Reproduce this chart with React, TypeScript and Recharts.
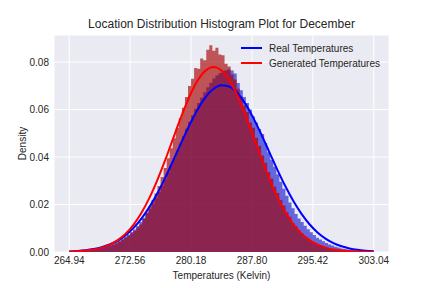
import React from "react";
import {
  Area,
  CartesianGrid,
  ComposedChart,
  Legend,
  Line,
  XAxis,
  YAxis,
} from "recharts";

// histogram bins: 100 bins of equal width starting at the data minimum
const binStart = 264.94;
const binWidth = 0.381;

// density per bin
const realDensity = [
  0.0001, 0.0002, 0.0003, 0.0004, 0.0005, 0.0006, 0.0008, 0.0009, 0.0011, 0.0014,
  0.0018, 0.0022, 0.0026, 0.0031, 0.0037, 0.0043, 0.005, 0.0057, 0.0065, 0.0074,
  0.0084, 0.0095, 0.011, 0.0126, 0.0144, 0.0163, 0.0182, 0.0205, 0.0228, 0.0253,
  0.0279, 0.0306, 0.0336, 0.0366, 0.0396, 0.0428, 0.0458, 0.0488, 0.0519, 0.0549,
  0.0576, 0.0603, 0.0628, 0.0651, 0.0673, 0.0694, 0.0713, 0.0731, 0.0743, 0.0754,
  0.0762, 0.0766, 0.077, 0.0765, 0.0752, 0.0712, 0.0681, 0.0653, 0.0628, 0.06,
  0.0571, 0.0545, 0.0518, 0.0497, 0.0459, 0.042, 0.0389, 0.0359, 0.0327, 0.0296,
  0.0266, 0.0237, 0.0209, 0.0184, 0.016, 0.0141, 0.0126, 0.0111, 0.0096, 0.0083,
  0.0072, 0.006, 0.0053, 0.0045, 0.0038, 0.0032, 0.0027, 0.0022, 0.0019, 0.0015,
  0.0013, 0.0011, 0.0009, 0.0008, 0.0006, 0.0005, 0.0004, 0.0003, 0.0002, 0.0001,
];

const generatedDensity = [
  0, 0.0001, 0.0002, 0.0003, 0.0003, 0.0004, 0.0006, 0.0007, 0.0009, 0.0012,
  0.0015, 0.0018, 0.0022, 0.0026, 0.0031, 0.0036, 0.0043, 0.0052, 0.006, 0.0069,
  0.0079, 0.0089, 0.0103, 0.0116, 0.0139, 0.0166, 0.0193, 0.0219, 0.0246, 0.0278,
  0.0316, 0.0354, 0.0395, 0.0437, 0.0479, 0.0522, 0.0564, 0.0608, 0.0653, 0.0699,
  0.073, 0.0775, 0.0772, 0.0815, 0.0808, 0.0852, 0.0871, 0.0848, 0.086, 0.0832,
  0.0829, 0.0793, 0.0781, 0.0748, 0.0727, 0.0688, 0.0656, 0.0616, 0.059, 0.0546,
  0.0523, 0.0481, 0.0447, 0.0406, 0.0376, 0.0337, 0.031, 0.0275, 0.0249, 0.0219,
  0.0196, 0.0167, 0.0148, 0.0122, 0.0108, 0.0091, 0.0078, 0.0065, 0.0056, 0.0045,
  0.0038, 0.003, 0.0026, 0.0021, 0.0017, 0.0014, 0.0011, 0.0009, 0.0007, 0.0005,
  0.0004, 0.0003, 0.0002, 0.0001, 0.0001, 0, 0, 0, 0, 0,
];

// fitted density curves
const curveX = [
  264.94, 266, 267, 268, 269, 270, 271, 272, 273, 274, 275, 276, 277, 278, 279, 280,
  281, 282, 283, 284, 285, 286, 287, 288, 289, 290, 291, 292, 293, 294, 295, 296,
  297, 298, 299, 300, 301, 302, 303.04,
];
const realCurve = [
  0.00023, 0.00043, 0.00074, 0.00124, 0.00201, 0.00316, 0.00482, 0.00712, 0.0102,
  0.01418, 0.01912, 0.02498, 0.03166, 0.03891, 0.04637, 0.05358, 0.06005, 0.06525,
  0.06876, 0.07026, 0.06961, 0.06688, 0.0623, 0.05629, 0.04932, 0.04189, 0.03451,
  0.02756, 0.02135, 0.01604, 0.01168, 0.00825, 0.00565, 0.00375, 0.00242, 0.00151,
  0.00091, 0.00054, 0.0003,
];
const generatedCurve = [
  0.00016, 0.00032, 0.00059, 0.00107, 0.00185, 0.00311, 0.005, 0.00775, 0.01157,
  0.01662, 0.02298, 0.0306, 0.0392, 0.0484, 0.0574, 0.0656, 0.0722, 0.0764, 0.0779,
  0.0764, 0.0722, 0.0656, 0.0574, 0.0484, 0.0392, 0.0306, 0.02298, 0.01662, 0.01157,
  0.00775, 0.005, 0.00311, 0.00185, 0.00107, 0.00059, 0.00032, 0.00016, 0.00008,
  0.00004,
];

const xTicks = [264.94, 272.56, 280.18, 287.8, 295.42, 303.04];
const yTicks = [0, 0.02, 0.04, 0.06, 0.08];

const xDomain: [number, number] = [263.035, 304.945];
const yDomain: [number, number] = [0, 0.0914];

// one row per bin left edge (step-after), plus a closing row at the last right edge
const histData = realDensity.map((v, i) => ({
  x: binStart + binWidth * i,
  real: v,
  gen: generatedDensity[i],
}));
histData.push({
  x: binStart + binWidth * realDensity.length,
  real: realDensity[realDensity.length - 1],
  gen: generatedDensity[generatedDensity.length - 1],
});

const curveData = curveX.map((x, i) => ({
  x,
  realFit: realCurve[i],
  genFit: generatedCurve[i],
}));

const FONT = "'Liberation Sans', Arial, sans-serif";
const TEXT = "#262626";

const DensityLabel = (props: any) => {
  const vb = props.viewBox || { x: 0, y: 0, width: 0, height: 0 };
  const cx = vb.x + 22;
  const cy = vb.y + vb.height / 2;
  return (
    <text
      x={cx}
      y={cy}
      transform={`rotate(-90, ${cx}, ${cy})`}
      textAnchor="middle"
      dominantBaseline="central"
      fontSize={10}
      fill={TEXT}
      fontFamily={FONT}
    >
      Density
    </text>
  );
};

const LegendBox = () => (
  <svg width={150} height={32}>
    <line x1={1} x2={22} y1={8} y2={8} stroke="#0000ff" strokeWidth={2} />
    <text x={29} y={8} dominantBaseline="central" fontSize={10} fill={TEXT} fontFamily={FONT}>
      Real Temperatures
    </text>
    <line x1={1} x2={22} y1={23} y2={23} stroke="#ff0000" strokeWidth={2} />
    <text x={29} y={23} dominantBaseline="central" fontSize={10} fill={TEXT} fontFamily={FONT}>
      Generated Temperatures
    </text>
  </svg>
);

export default function App() {
  return (
    <div style={{ position: "absolute", left: 0, top: 0, width: 432, height: 288, background: "#fff" }}>
      <div
        style={{
          position: "absolute",
          left: 54,
          top: 17,
          width: 335,
          textAlign: "center",
          fontFamily: FONT,
          fontSize: 12,
          lineHeight: "14px",
          color: TEXT,
        }}
      >
        Location Distribution Histogram Plot for December
      </div>
      <ComposedChart
        width={432}
        height={288}
        data={histData}
        margin={{ top: 35, right: 43, left: 0, bottom: 0 }}
      >
        <CartesianGrid fill="#eaeaf2" stroke="#ffffff" strokeWidth={1} />
        <XAxis
          dataKey="x"
          type="number"
          domain={xDomain}
          allowDataOverflow
          ticks={xTicks}
          tickFormatter={(v: number) => v.toFixed(2)}
          axisLine={false}
          tickLine={false}
          tickSize={0}
          tickMargin={5}
          height={36}
          tick={{ fontSize: 10, fill: TEXT, fontFamily: FONT }}
          label={{ value: "Temperatures (Kelvin)", position: "insideBottom", offset: 9, fontSize: 10, fill: TEXT, fontFamily: FONT }}
        />
        <YAxis
          type="number"
          domain={yDomain}
          allowDataOverflow
          ticks={yTicks}
          tickFormatter={(v: number) => v.toFixed(2)}
          axisLine={false}
          tickLine={false}
          tickSize={0}
          tickMargin={5}
          width={54}
          tick={{ fontSize: 10, fill: TEXT, fontFamily: FONT }}
          label={<DensityLabel />}
        />
        <Legend
          layout="vertical"
          align="center"
          verticalAlign="middle"
          content={<LegendBox />}
          wrapperStyle={{ left: 240, top: 40, width: 150, height: 32 }}
        />
        <Area
          dataKey="real"
          type="stepAfter"
          fill="#0000cc"
          fillOpacity={0.57}
          stroke="none"
          isAnimationActive={false}
          legendType="none"
        />
        <Area
          dataKey="gen"
          type="stepAfter"
          fill="#a20002"
          fillOpacity={0.64}
          stroke="none"
          isAnimationActive={false}
          legendType="none"
        />
        <Line
          data={curveData}
          dataKey="realFit"
          type="monotone"
          stroke="#0000ff"
          strokeWidth={2}
          dot={false}
          isAnimationActive={false}
        />
        <Line
          data={curveData}
          dataKey="genFit"
          type="monotone"
          stroke="#ff0000"
          strokeWidth={2}
          dot={false}
          isAnimationActive={false}
        />
      </ComposedChart>
    </div>
  );
}
